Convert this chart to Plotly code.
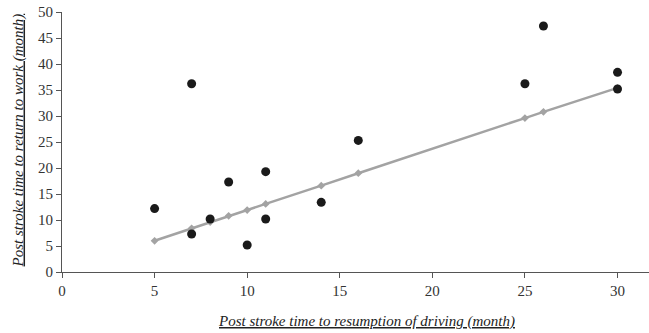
import plotly.graph_objects as go

drive_months = [5, 7, 7, 8, 9, 10, 11, 11, 14, 16, 25, 26, 30, 30]
work_months = [12.2, 36.2, 7.3, 10.2, 17.3, 5.2, 19.3, 10.2, 13.4, 25.3, 36.2, 47.3, 38.4, 35.2]

trend_x = [5, 7, 8, 9, 10, 11, 14, 16, 25, 26, 30]
trend_y = [6.0, 8.4, 9.6, 10.8, 11.9, 13.1, 16.6, 19.0, 29.6, 30.8, 35.4]

x_ticks = [0, 5, 10, 15, 20, 25, 30]
y_ticks = [0, 5, 10, 15, 20, 25, 30, 35, 40, 45, 50]

x_title = "Post stroke time to resumption of driving (month)"
y_title = "Post stroke time to return to work (month)"

FONT = "Liberation Serif"

fig = go.Figure()
fig.add_trace(go.Scatter(
    x=trend_x, y=trend_y, mode="lines+markers",
    line=dict(color="#a3a3a3", width=2.5),
    marker=dict(symbol="diamond", size=6, color="#a3a3a3"),
    showlegend=False, hoverinfo="skip"))
fig.add_trace(go.Scatter(
    x=drive_months, y=work_months, mode="markers",
    marker=dict(symbol="circle", size=9, color="#1a1a1a"),
    showlegend=False))

fig.update_layout(
    width=649, height=333,
    margin=dict(l=62, r=0, t=12, b=61),
    paper_bgcolor="white", plot_bgcolor="white",
    font=dict(family=FONT, size=15, color="#333333"),
    xaxis=dict(
        range=[0, 31.7], tickvals=x_ticks, showgrid=False, zeroline=False,
        showline=True, linecolor="#555555", linewidth=1.2, automargin=False,
        ticks="outside", ticklen=5, tickcolor="#555555",
        tickfont=dict(family=FONT, size=15, color="#333333"),
    ),
    yaxis=dict(
        range=[0, 50], tickvals=y_ticks, showgrid=False, zeroline=False,
        showline=True, linecolor="#555555", linewidth=1.2, automargin=False,
        ticks="outside", ticklen=5, tickcolor="#555555",
        tickfont=dict(family=FONT, size=15, color="#333333"),
    ),
    annotations=[
        dict(text="<i><u>" + x_title + "</u></i>", xref="paper", yref="paper",
             x=0.518, y=-0.192, showarrow=False, xanchor="center", yanchor="middle",
             font=dict(family=FONT, size=15, color="#222222")),
        dict(text="<i><u>" + y_title + "</u></i>", xref="paper", yref="paper",
             x=-0.075, y=0.506, showarrow=False, xanchor="center", yanchor="middle",
             textangle=-90, font=dict(family=FONT, size=15, color="#222222")),
    ],
)

fig.write_html(
    "out.html",
    config={"displayModeBar": False},
    post_script="document.body.style.margin='0';document.body.style.padding='0';document.body.style.overflow='hidden';",
)
